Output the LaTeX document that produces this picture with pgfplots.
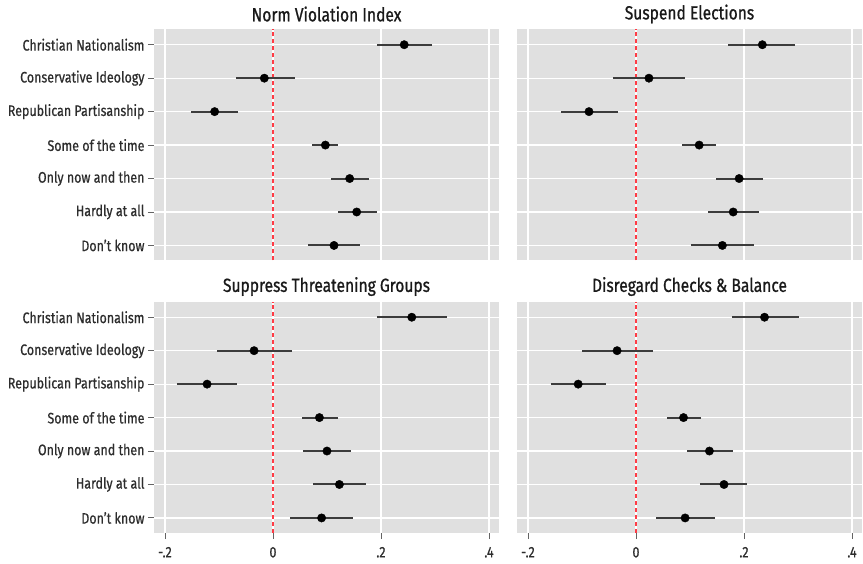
\documentclass[border=0pt]{standalone}
\usepackage{fontspec}
\setmainfont{Fira Sans}[FakeStretch=0.82, FakeBold=0.6]
\newfontfamily\titlefamily{Fira Sans}[FakeStretch=0.82, FakeBold=0.9]
\usepackage{pgfplots}
\usepackage{pgfplotstable}
\pgfplotsset{compat=1.18}
\definecolor{panelbg}{RGB}{224,224,224}
\definecolor{barcol}{RGB}{60,60,60}
\definecolor{tickcol}{RGB}{100,100,100}
\definecolor{labelcol}{RGB}{45,45,45}
\definecolor{titlecol}{RGB}{25,25,25}
\definecolor{zerocol}{RGB}{255,60,70}
\newcommand\titlefont{\titlefamily\fontsize{19bp}{21bp}\selectfont}
\newcommand\tickfont{\fontsize{15.2bp}{17bp}\selectfont}

% columns: y (7 = Christian Nationalism ... 1 = Don't know), estimate, lower, upper
\pgfplotstableread{
y x lo hi
7 0.243 0.193 0.295
6 -0.016 -0.069 0.040
5 -0.108 -0.152 -0.064
4 0.097 0.072 0.121
3 0.142 0.108 0.178
2 0.155 0.120 0.192
1 0.113 0.064 0.162
}\normviol
\pgfplotstableread{
y x lo hi
7 0.234 0.171 0.295
6 0.024 -0.042 0.091
5 -0.087 -0.138 -0.034
4 0.117 0.086 0.148
3 0.191 0.149 0.235
2 0.180 0.133 0.228
1 0.160 0.102 0.219
}\suspend
\pgfplotstableread{
y x lo hi
7 0.257 0.192 0.322
6 -0.035 -0.103 0.035
5 -0.122 -0.177 -0.067
4 0.086 0.054 0.120
3 0.100 0.056 0.144
2 0.123 0.074 0.172
1 0.090 0.031 0.149
}\suppress
\pgfplotstableread{
y x lo hi
7 0.238 0.177 0.301
6 -0.035 -0.100 0.031
5 -0.107 -0.158 -0.055
4 0.088 0.057 0.120
3 0.136 0.095 0.179
2 0.163 0.119 0.206
1 0.091 0.037 0.146
}\checks

\pgfplotsset{
  panel/.style={
    scale only axis, width=345bp, height=231.5bp, anchor=south west,
    xmin=-0.2203, xmax=0.4185, ymin=0.55, ymax=7.47,
    axis background/.style={fill=panelbg, draw=none},
    axis line style={draw=none},
    grid=major, major grid style={white, line width=1.2bp},
    xtick={-0.2,0,0.2,0.4},
    ytick={1,2,3,4,5,6,7},
    xtick pos=bottom, ytick pos=left,
    yticklabels={Don't know,Hardly at all,Only now and then,Some of the time,Republican Partisanship,Conservative Ideology,Christian Nationalism},
    xticklabels={-.2,0,.2,.4},
    tick style={tickcol, line width=0.9bp},
    tick align=outside, major tick length=6bp,
    title style={font=\titlefont, text=titlecol, at={(0.5,1)}, anchor=center, yshift=9bp},
    ticklabel style={font=\tickfont, text=labelcol},
    xticklabel style={yshift=-4.5bp},
  },
  notop/.style={xticklabels={}, xtick style={draw=none}},
  noleft/.style={yticklabels={}, ytick style={draw=none}},
  zero/.style={zerocol, line width=1.1bp, dash pattern=on 4bp off 3bp, forget plot},
  est/.style={only marks, mark=*, mark size=4.2bp, color=black,
    error bars/.cd, x dir=both, x explicit, error mark=none,
    error bar style={barcol, line width=2bp}},
}
\newcommand\panelplot[1]{%
  \addplot[zero] coordinates {(0,0.55) (0,7.47)};
  \addplot[est] table[x=x, y=y,
     x error plus expr=\thisrow{hi}-\thisrow{x},
     x error minus expr=\thisrow{x}-\thisrow{lo}] {#1};
}

\begin{document}
\begin{tikzpicture}
\useasboundingbox (0,0) rectangle (863bp,564bp);
\begin{axis}[panel, notop, at={(154bp,303.5bp)}, title={Norm Violation Index}]
\panelplot{\normviol}
\end{axis}
\begin{axis}[panel, notop, noleft, at={(517bp,303.5bp)}, title={Suspend Elections}]
\panelplot{\suspend}
\end{axis}
\begin{axis}[panel, at={(154bp,31bp)}, title={Suppress Threatening Groups}]
\panelplot{\suppress}
\end{axis}
\begin{axis}[panel, noleft, at={(517bp,31bp)}, title={Disregard Checks \& Balance}]
\panelplot{\checks}
\end{axis}
\end{tikzpicture}
\end{document}
